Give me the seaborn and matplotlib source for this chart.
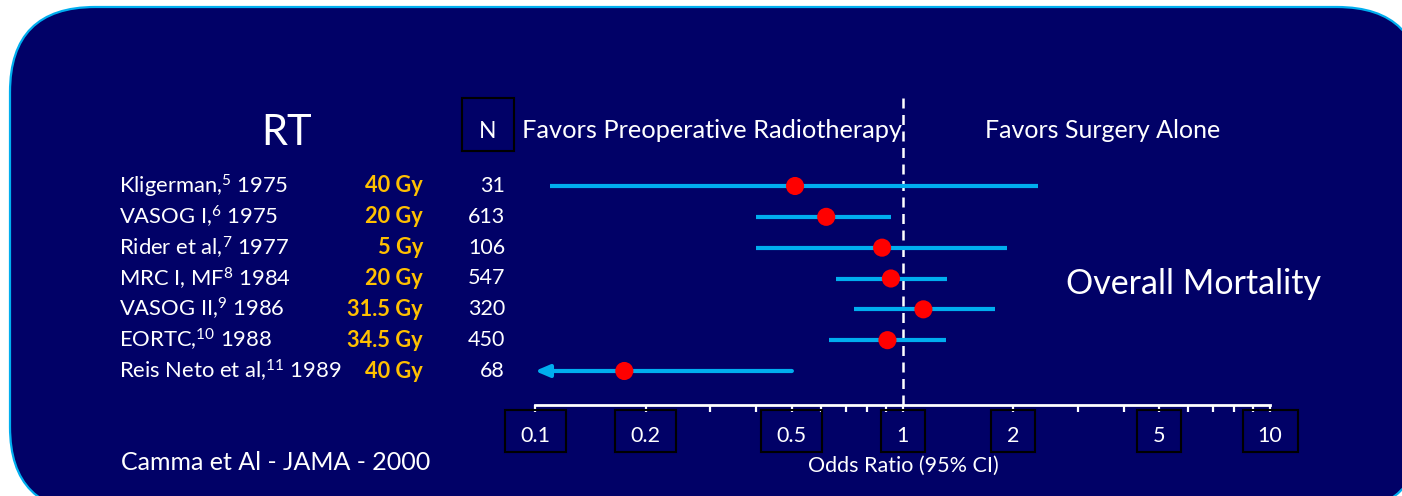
import numpy as np
import pandas as pd
import matplotlib
matplotlib.use("Agg")
import matplotlib.pyplot as plt
from matplotlib.patches import FancyBboxPatch, Rectangle
from matplotlib.transforms import blended_transform_factory
from matplotlib.ticker import LogLocator, NullFormatter, FixedLocator
import seaborn as sns

# Trial data
studies = ["Kligerman,$^{5}$ 1975", "VASOG I,$^{6}$ 1975", "Rider et al,$^{7}$ 1977",
           "MRC I, MF$^{8}$ 1984", "VASOG II,$^{9}$ 1986", "EORTC,$^{10}$ 1988",
           "Reis Neto et al,$^{11}$ 1989"]
doses = ["40 Gy", "20 Gy", "5 Gy", "20 Gy", "31.5 Gy", "34.5 Gy", "40 Gy"]
n_patients = [31, 613, 106, 547, 320, 450, 68]
odds_ratio = [0.51, 0.62, 0.88, 0.93, 1.14, 0.91, 0.175]
ci_low = [0.11, 0.40, 0.40, 0.66, 0.74, 0.63, np.nan]   # NaN: below axis range
ci_high = [2.33, 0.93, 1.93, 1.32, 1.78, 1.31, 0.50]
tick_values = [0.1, 0.2, 0.5, 1, 2, 5, 10]
tick_labels = ["0.1", "0.2", "0.5", "1", "2", "5", "10"]

sns.set_theme(style="white")
plt.rcParams["font.family"] = ["Lato", "DejaVu Sans"]
plt.rcParams["mathtext.default"] = "regular"

NAVY = "#010167"
CYAN = "#00AEEF"
GOLD = "#FFC000"
W, H = 1402, 496

fig = plt.figure(figsize=(W / 100, H / 100), dpi=100)
fig.patch.set_facecolor("white")

# Rounded panel background (pixel coordinates)
panel = FancyBboxPatch((10, -16), 1412, 505,
                       boxstyle="round,pad=0,rounding_size=85",
                       transform=None, facecolor=NAVY, edgecolor=CYAN,
                       linewidth=1.6, zorder=0)
fig.add_artist(panel)

def fx(px):
    return px / W

def fy(py):
    return 1 - py / H

# Forest plot axes: x 0.1 -> 535px, 10 -> 1270px ; top 97px, bottom axis line 405px
ax = fig.add_axes([fx(535), fy(405), (1270 - 535) / W, (405 - 97) / H])
ax.set_facecolor("none")

df = pd.DataFrame({"study": studies, "or": odds_ratio, "lo": ci_low, "hi": ci_high,
                   "row": np.arange(len(studies))})

ax.set_xscale("log")
ax.set_xlim(0.1, 10)
row_step = (371 - 186) / 6
ax.set_ylim((405 - 186) / row_step, (97 - 186) / row_step)

# Confidence intervals
for _, r in df.iterrows():
    if np.isnan(r["lo"]):
        ax.annotate("", xy=(ax.get_xlim()[0], r["row"]), xytext=(r["hi"], r["row"]),
                    arrowprops=dict(arrowstyle="-|>,head_length=0.7,head_width=0.3",
                                    color=CYAN, lw=3, shrinkA=0, shrinkB=0), zorder=2)
    else:
        ax.hlines(r["row"], r["lo"], r["hi"], color=CYAN, lw=3, zorder=2)

sns.scatterplot(data=df, x="or", y="row", ax=ax, color="#FF0000", s=170,
                edgecolor="none", zorder=3, legend=False)

# Line of no effect
ax.axvline(1, color="white", lw=1.8, linestyle=(0, (4, 2.6)), zorder=1)

# Axis styling
for side in ["top", "right", "left"]:
    ax.spines[side].set_visible(False)
ax.spines["bottom"].set_color("white")
ax.spines["bottom"].set_linewidth(2)
ax.set_yticks([])
ax.xaxis.set_major_locator(FixedLocator(tick_values))
ax.xaxis.set_minor_locator(LogLocator(base=10, subs=np.arange(2, 10)))
ax.xaxis.set_major_formatter(NullFormatter())
ax.xaxis.set_minor_formatter(NullFormatter())
ax.tick_params(axis="x", which="both", direction="out", colors="white",
               length=5, width=1.6, bottom=True)
ax.set_xlabel("")
ax.set_ylabel("")

# Tick labels in boxes
box_tf = blended_transform_factory(ax.transData, fig.transFigure)
for v, lab in zip(tick_values, tick_labels):
    wpx = 61 if "." in lab else (55 if len(lab) == 2 else 44)
    xc_disp = ax.transData.transform((v, 0))[0]
    fig.add_artist(Rectangle((xc_disp - wpx / 2, H - 452), wpx, 42, transform=None,
                             facecolor="none", edgecolor="black", lw=1.5, zorder=4))
    ax.text(v, fy(436), lab, transform=box_tf, ha="center", va="center",
            color="white", fontsize=15.5)

fig.text(fx(903), fy(466), "Odds Ratio (95% CI)", ha="center", va="center",
         color="white", fontsize=15.5)

# Left-hand table
row_tf = blended_transform_factory(fig.transFigure, ax.transData)
for i in range(len(studies)):
    ax.text(fx(119), i, studies[i], transform=row_tf, ha="left", va="center",
            color="white", fontsize=15.8)
    ax.text(fx(423), i, doses[i], transform=row_tf, ha="right", va="center",
            color=GOLD, fontsize=15.7, fontweight="bold")
    ax.text(fx(505), i, str(n_patients[i]), transform=row_tf, ha="right", va="center",
            color="white", fontsize=15.5)

# Headers
fig.text(fx(287), fy(133), "RT", ha="center", va="center", color="white", fontsize=30)
fig.add_artist(Rectangle((462, H - 151), 52, 53, transform=None, facecolor="none",
                         edgecolor="black", lw=1.5, zorder=4))
fig.text(fx(488), fy(131), "N", ha="center", va="center", color="white", fontsize=16.5)
fig.text(fx(522), fy(131), "Favors Preoperative Radiotherapy", ha="left", va="center",
         color="white", fontsize=18.3)
fig.text(fx(985), fy(131), "Favors Surgery Alone", ha="left", va="center",
         color="white", fontsize=18)
fig.text(fx(1194), fy(284), "Overall Mortality", ha="center", va="center",
         color="white", fontsize=24.5)
fig.text(fx(121), fy(463), "Camma et Al - JAMA - 2000", ha="left", va="center",
         color="white", fontsize=18)

fig.savefig("out.png", dpi=100, facecolor=fig.get_facecolor())
